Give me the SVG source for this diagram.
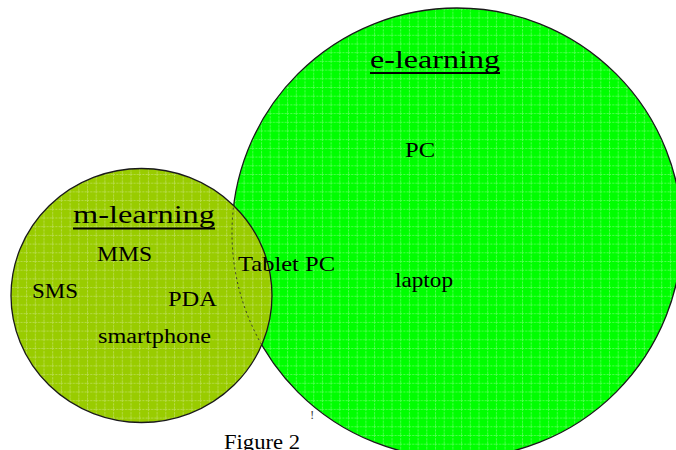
<svg xmlns="http://www.w3.org/2000/svg" width="676" height="450" viewBox="0 0 676 450">
  <defs>
    <pattern id="gridG" width="8.7" height="8.7" patternUnits="userSpaceOnUse">
      <rect width="8.7" height="8.7" fill="#00ff00"/>
      <path d="M0 0.5H8.7M0.5 0V8.7" stroke="#ffffff" stroke-opacity="0.32" stroke-width="1" stroke-dasharray="2 1.2"/>
    </pattern>
    <pattern id="gridO" width="8.7" height="8.7" patternUnits="userSpaceOnUse">
      <rect width="8.7" height="8.7" fill="#99cc00"/>
      <path d="M0 0.5H8.7M0.5 0V8.7" stroke="#ffffff" stroke-opacity="0.3" stroke-width="1" stroke-dasharray="2 1.2"/>
    </pattern>
    <clipPath id="smallClip">
      <ellipse cx="141.5" cy="295.5" rx="130.5" ry="127"/>
    </clipPath>
    <style>
      .lbl { font-family: "Liberation Serif", "Times New Roman", serif; fill: #000; }
      .circ { stroke: #1a1a1a; stroke-width: 1.3; }
      .ul { stroke: #000; stroke-width: 2; }
    </style>
  </defs>

  <rect width="676" height="450" fill="#ffffff"/>

  <g id="e-learning">
    <circle class="circ" cx="457" cy="233" r="225" fill="url(#gridG)"/>
  </g>

  <g id="m-learning">
    <ellipse class="circ" cx="141.5" cy="295.5" rx="130.5" ry="127" fill="url(#gridO)"/>
    <circle cx="457" cy="233" r="225" fill="none" stroke="#333" stroke-width="1" stroke-dasharray="2 3" clip-path="url(#smallClip)"/>
  </g>

  <g id="labels">
    <text class="lbl" x="370" y="68" font-size="26" textLength="130" lengthAdjust="spacingAndGlyphs">e-learning</text>
    <line class="ul" x1="370" y1="73" x2="500" y2="73"/>
    <text class="lbl" x="405" y="157" font-size="22" textLength="30" lengthAdjust="spacingAndGlyphs">PC</text>
    <text class="lbl" x="395" y="287" font-size="22" textLength="58" lengthAdjust="spacingAndGlyphs">laptop</text>
    <text class="lbl" x="238" y="271" font-size="22" textLength="97" lengthAdjust="spacingAndGlyphs">Tablet PC</text>

    <text class="lbl" x="73" y="223" font-size="26" textLength="142" lengthAdjust="spacingAndGlyphs">m-learning</text>
    <line class="ul" x1="73" y1="228.5" x2="215" y2="228.5"/>
    <text class="lbl" x="97" y="261" font-size="22" textLength="55" lengthAdjust="spacingAndGlyphs">MMS</text>
    <text class="lbl" x="32" y="298" font-size="22" textLength="46" lengthAdjust="spacingAndGlyphs">SMS</text>
    <text class="lbl" x="168" y="306" font-size="22" textLength="49" lengthAdjust="spacingAndGlyphs">PDA</text>
    <text class="lbl" x="98" y="343" font-size="20" textLength="113" lengthAdjust="spacingAndGlyphs">smartphone</text>

    <text class="lbl" x="310" y="419" font-size="13" style="fill:#444">!</text>
    <text class="lbl" x="224" y="449" font-size="20" textLength="76" lengthAdjust="spacingAndGlyphs">Figure 2</text>
  </g>
</svg>
